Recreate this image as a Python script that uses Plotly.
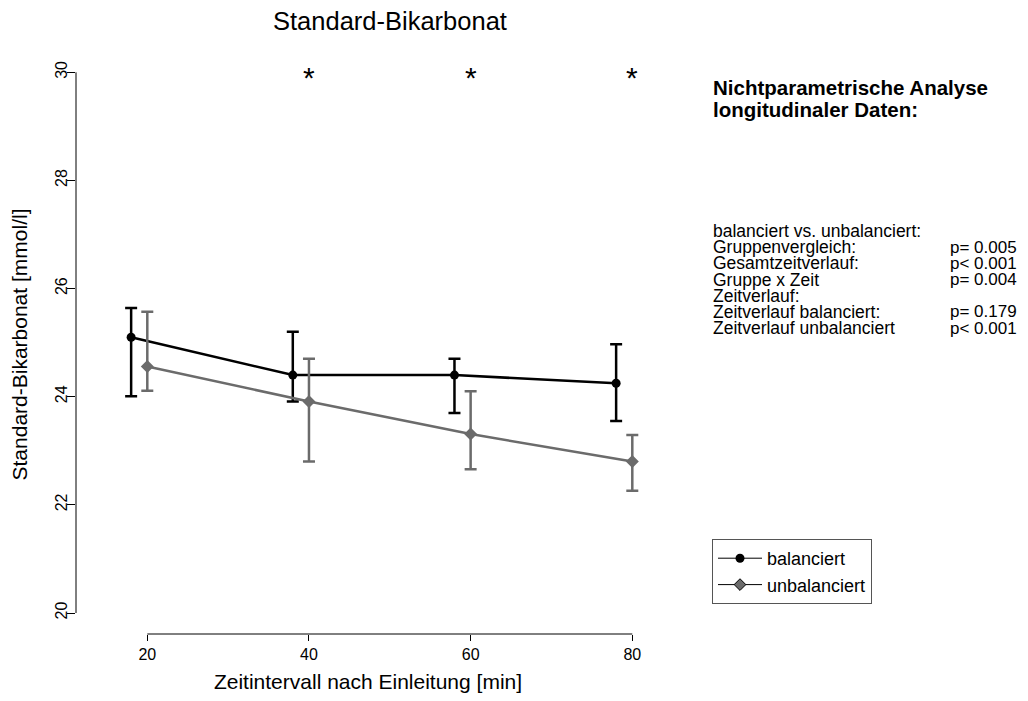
import plotly.graph_objects as go

# ---- data ----
x_bal = [18, 38, 58, 78]
x_unbal = [20, 40, 60, 80]
bal_mean = [25.10, 24.40, 24.40, 24.25]
bal_upper = [25.64, 25.20, 24.70, 24.97]
bal_lower = [24.01, 23.91, 23.70, 23.55]
unbal_mean = [24.56, 23.91, 23.31, 22.80]
unbal_upper = [25.57, 24.70, 24.10, 23.29]
unbal_lower = [24.11, 22.80, 22.66, 22.26]
sig_x = [40, 60, 80]
sig_y = [30, 30, 30]
x_ticks = [20, 40, 60, 80]
y_ticks = [20, 22, 24, 26, 28, 30]

stat_labels = ["balanciert vs. unbalanciert:", "Gruppenvergleich:", "Gesamtzeitverlauf:",
               "Gruppe x Zeit", "Zeitverlauf:", "Zeitverlauf balanciert:", "Zeitverlauf unbalanciert"]
stat_values = ["", "p= 0.005", "p< 0.001", "p= 0.004", "", "p= 0.179", "p< 0.001"]

FONT = "Liberation Sans, Arial, Helvetica, sans-serif"
GREY = "#6b6b6b"

OFF = 8  # page body margin in the browser
W, H = 1028 - OFF, 701 - 2 * OFF
# plot area in reference (window) pixels
L, R, T, B = 76, 660, 55, 634


def px_x(p):
    return (p - L) / (R - L)


def px_y(p):
    return (B - p) / (B - T)


fig = go.Figure()

fig.add_trace(go.Scatter(
    x=x_bal, y=bal_mean, mode="lines+markers", showlegend=False,
    line=dict(color="black", width=2.5),
    marker=dict(symbol="circle", size=9, color="black"),
    error_y=dict(type="data", symmetric=False,
                 array=[u - m for u, m in zip(bal_upper, bal_mean)],
                 arrayminus=[m - l for m, l in zip(bal_mean, bal_lower)],
                 color="black", thickness=2.5, width=6),
))
fig.add_trace(go.Scatter(
    x=x_unbal, y=unbal_mean, mode="lines+markers", showlegend=False,
    line=dict(color=GREY, width=2.5),
    marker=dict(symbol="diamond", size=10, color=GREY),
    error_y=dict(type="data", symmetric=False,
                 array=[u - m for u, m in zip(unbal_upper, unbal_mean)],
                 arrayminus=[m - l for m, l in zip(unbal_mean, unbal_lower)],
                 color=GREY, thickness=2.5, width=6),
))

# legend entries
fig.add_trace(go.Scatter(x=[None], y=[None], mode="lines+markers", name="balanciert",
                         line=dict(color="black", width=1),
                         marker=dict(symbol="circle", size=9, color="black")))
fig.add_trace(go.Scatter(x=[None], y=[None], mode="lines+markers", name="unbalanciert",
                         line=dict(color="black", width=1),
                         marker=dict(symbol="diamond", size=9, color=GREY,
                                     line=dict(color="black", width=1))))

# significance stars
for sx, sy in zip(sig_x, sig_y):
    fig.add_annotation(x=sx, y=sy, xref="x", yref="y", text="*", showarrow=False,
                       yshift=-5, xanchor="center", yanchor="middle",
                       font=dict(family=FONT, size=30, color="black"))

xmin = 20 - (147.3 - L) / 8.083
xmax = 80 + (R - 632.3) / 8.083
ymin = 20 - (B - 613.0) / 54.07
ymax = 30 + (72.3 - T) / 54.07

fig.update_layout(
    width=W, height=H,
    margin=dict(l=L - OFF, r=W - (R - OFF), t=T - OFF, b=H - (B - OFF), autoexpand=False),
    paper_bgcolor="white", plot_bgcolor="white",
    font=dict(family=FONT, color="black"),
    showlegend=True,
    legend=dict(x=px_x(712), y=px_y(539), xanchor="left", yanchor="top",
                bordercolor="#555555", borderwidth=1, bgcolor="white",
                font=dict(size=18, family=FONT), tracegroupgap=0,
                itemwidth=44),
    xaxis=dict(range=[xmin, xmax], showgrid=False, zeroline=False, showline=False,
               tickmode="array", tickvals=x_ticks, ticks="outside", ticklen=6,
               tickcolor="black", tickfont=dict(size=16, family=FONT),
               title=dict(text="Zeitintervall nach Einleitung [min]",
                          font=dict(size=21, family=FONT), standoff=18)),
    yaxis=dict(range=[ymin, ymax], showgrid=False, zeroline=False, showline=False,
               tickmode="array", tickvals=y_ticks, ticks="outside", ticklen=8,
               tickcolor="black", tickangle=-90, tickfont=dict(size=16, family=FONT),
               ticklabelstandoff=-6,
               title=dict(text="Standard-Bikarbonat [mmol/l]",
                          font=dict(size=21, family=FONT), standoff=20)),
)

# R-style axis lines spanning only the tick range
fig.add_shape(type="line", xref="paper", yref="y", x0=0, x1=0, y0=y_ticks[0], y1=y_ticks[-1],
              line=dict(color="black", width=1))
fig.add_shape(type="line", xref="x", yref="paper", x0=x_ticks[0], x1=x_ticks[-1], y0=0, y1=0,
              line=dict(color="black", width=1))

# title
fig.add_annotation(text="Standard-Bikarbonat", xref="paper", yref="paper",
                   x=px_x(390), y=px_y(21), xanchor="center", yanchor="middle",
                   showarrow=False, font=dict(size=25.5, family=FONT))

# header (bold)
for i, line in enumerate(["Nichtparametrische Analyse", "longitudinaler Daten:"]):
    fig.add_annotation(text="<b>%s</b>" % line, xref="paper", yref="paper",
                       x=px_x(711), y=px_y(88 + 21 * i), xanchor="left", yanchor="middle",
                       showarrow=False, font=dict(size=20.5, family=FONT))

for i, (lab, val) in enumerate(zip(stat_labels, stat_values)):
    yy = px_y(231 + 16.2 * i)
    fig.add_annotation(text=lab, xref="paper", yref="paper", x=px_x(711), y=yy,
                       xanchor="left", yanchor="middle", showarrow=False,
                       font=dict(size=17.5, family=FONT))
    if val:
        fig.add_annotation(text=val, xref="paper", yref="paper", x=px_x(1019), y=yy,
                           xanchor="right", yanchor="middle", showarrow=False,
                           font=dict(size=17, family=FONT))

fig.write_html("out.html")
